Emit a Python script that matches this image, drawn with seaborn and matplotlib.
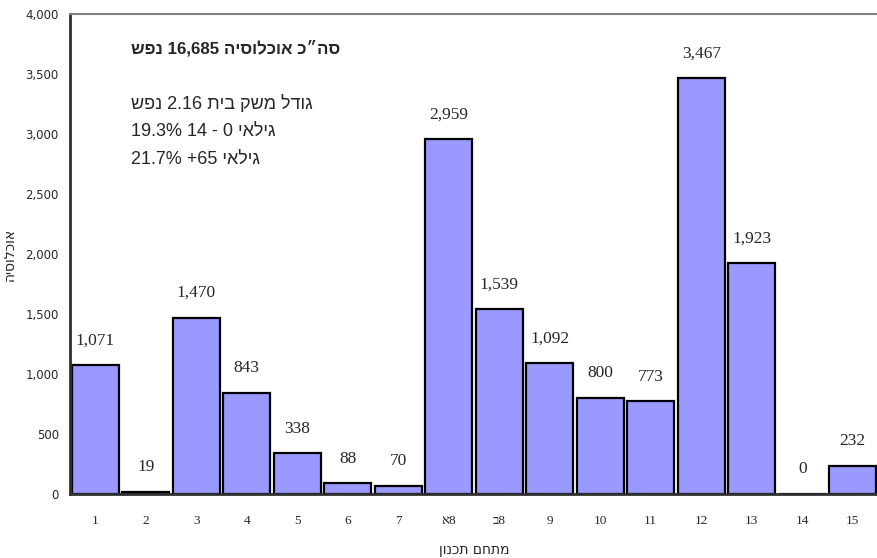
import numpy as np
import pandas as pd
import seaborn as sns
import matplotlib.pyplot as plt
from matplotlib.ticker import FuncFormatter

# planning areas and population per area
areas = ["1", "2", "3", "4", "5", "6", "7", "8א", "8ב", "9", "10", "11", "12", "13", "14", "15"]
population = [1071, 19, 1470, 843, 338, 88, 70, 2959, 1539, 1092, 800, 773, 3467, 1923, 0, 232]

info_lines = [
    "סה״כ אוכלוסיה 16,685 נפש",
    "גודל משק בית 2.16 נפש",
    "גילאי 0 - 14 19.3%",
    "גילאי +65 21.7%",
]
x_title = "מתחם תכנון"
y_title = "אוכלוסיה"


def rtl(s):
    # matplotlib has no bidi support: put Hebrew in visual order by hand
    out = []
    for tok in s.split(" ")[::-1]:
        if any("\u0590" <= c <= "\u05ff" for c in tok):
            tok = tok[::-1]
        out.append(tok)
    return " ".join(out)


sns.set_style("white")
serif = ["Liberation Serif", "DejaVu Sans"]
sans = ["DejaVu Sans"]
box = ["Liberation Sans", "DejaVu Sans"]
plt.rcParams["font.family"] = serif

df = pd.DataFrame({"area": [rtl(a) for a in areas], "pop": population})

fig = plt.figure(figsize=(8.78, 5.58), dpi=100)
ax = fig.add_axes([0.0797, 0.1147, 0.9203, 0.8603])

sns.barplot(data=df, x="area", y="pop", color="#9999FF", saturation=1,
            edgecolor="black", linewidth=1.6, width=0.93, ax=ax)

for i, v in enumerate(population):
    ax.annotate(f"{v:,}", (i, v), xytext=(0, 12), textcoords="offset points",
                ha="center", va="bottom", fontsize=12.5, family=serif)

ax.set_xlim(-0.5, len(areas) - 0.5)
ax.set_ylim(0, 4000)
ax.set_yticks(np.arange(0, 4001, 500))
ax.yaxis.set_major_formatter(FuncFormatter(lambda v, p: f"{int(v):,}"))
for lab in ax.get_yticklabels():
    lab.set_family(sans)
    lab.set_fontsize(8.5)

# ticks between categories, labels at centers
ax.set_xticks(np.arange(len(areas)))
ax.set_xticks(np.arange(-0.5, len(areas), 1), minor=True)
ax.tick_params(axis="x", which="major", length=0, pad=15, labelsize=9.5)
ax.tick_params(axis="x", which="minor", length=5, width=1, color="#404040", direction="out")
ax.tick_params(axis="y", length=5, width=1, color="#404040", direction="out", pad=3)

ax.set_xlabel(rtl(x_title), fontsize=10, family=sans, labelpad=12)
ax.set_ylabel(rtl(y_title), fontsize=10, family=sans, labelpad=6)

for side in ["left", "bottom"]:
    ax.spines[side].set_color("#303030")
    ax.spines[side].set_linewidth(2)
ax.spines["top"].set_color("#808080")
ax.spines["top"].set_linewidth(1.5)
ax.spines["right"].set_visible(False)

# info box
tx = 0.075
ax.text(tx, 0.929, rtl(info_lines[0]), transform=ax.transAxes, fontsize=12.2,
        fontweight="bold", family=box, va="center", ha="left")
for k, line in enumerate(info_lines[1:]):
    ax.text(tx, 0.8125 - k * 0.058, rtl(line), transform=ax.transAxes, fontsize=13,
            family=box, va="center", ha="left")

fig.savefig("out.png", dpi=100)
